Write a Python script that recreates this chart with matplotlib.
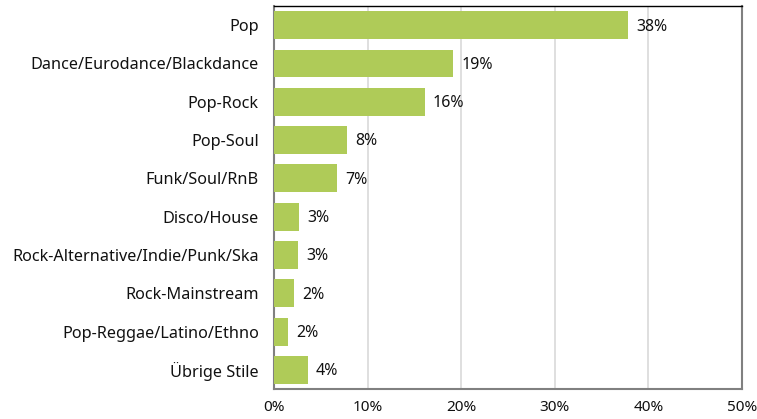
import matplotlib
matplotlib.use("Agg")
import matplotlib.pyplot as plt
from matplotlib.ticker import FuncFormatter

categories = ['Pop', 'Dance/Eurodance/Blackdance', 'Pop-Rock', 'Pop-Soul',
              'Funk/Soul/RnB', 'Disco/House', 'Rock-Alternative/Indie/Punk/Ska',
              'Rock-Mainstream', 'Pop-Reggae/Latino/Ethno', 'Übrige Stile']
values = [37.8, 19.1, 16.1, 7.8, 6.7, 2.7, 2.6, 2.1, 1.5, 3.6]
labels = ['38%', '19%', '16%', '8%', '7%', '3%', '3%', '2%', '2%', '4%']

plt.rcParams['font.family'] = ['Noto Sans', 'DejaVu Sans']

fig = plt.figure(figsize=(7.57, 4.19), dpi=100)
ax = fig.add_axes([0.362, 0.0716, 0.618, 0.914])

y_pos = list(range(len(categories)))
bars = ax.barh(y_pos, values, height=0.73, color='#afcb58', zorder=3)

for rect, lab in zip(bars, labels):
    ax.annotate(lab, (rect.get_width(), rect.get_y() + rect.get_height() / 2),
                xytext=(6, -1), textcoords='offset points',
                ha='left', va='center', fontsize=11.5, color='#111111')

ax.set_xlim(0, 50)
ax.set_ylim(len(categories) - 0.5, -0.5)
ax.set_yticks(y_pos)
ax.set_yticklabels(categories, fontsize=11.7, color='#111111')
ax.set_xticks(range(0, 51, 10))
ax.xaxis.set_major_formatter(FuncFormatter(lambda v, p: '%d%%' % v))
ax.tick_params(axis='x', labelsize=11, colors='#111111', length=0, pad=8)
ax.tick_params(axis='y', length=0, pad=11)

ax.grid(axis='x', color='#d9d9d9', linewidth=1.2, zorder=0)
ax.set_axisbelow(True)

for side in ['left', 'bottom', 'right']:
    ax.spines[side].set_color('#808080')
    ax.spines[side].set_linewidth(1.5)
ax.spines['top'].set_color('#000000')
ax.spines['top'].set_linewidth(1.0)

fig.savefig('out.png', dpi=100)
